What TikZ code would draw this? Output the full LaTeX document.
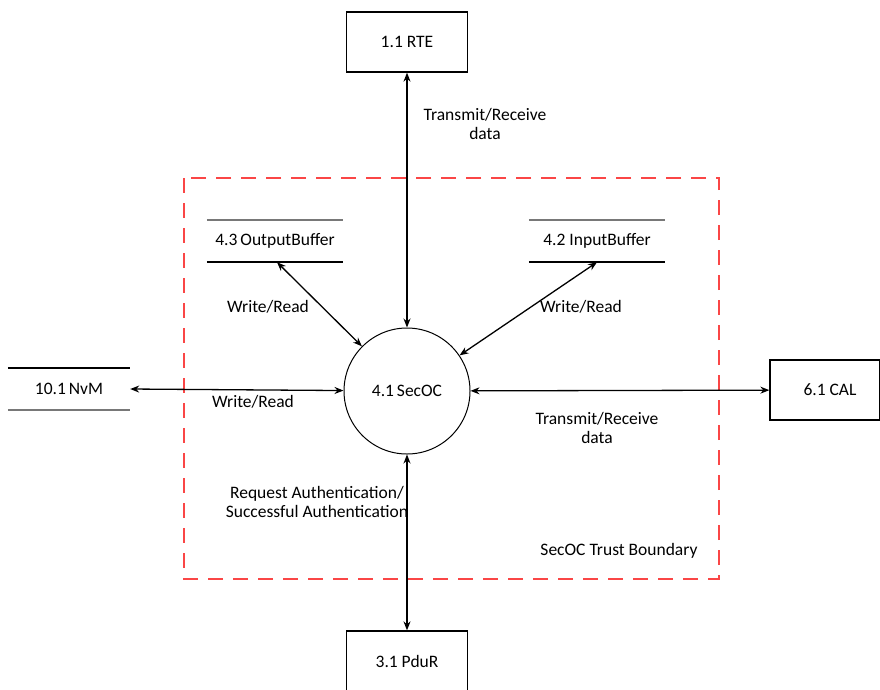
\documentclass[tikz,border=0pt]{standalone}
\usepackage{fontspec}
\setmainfont{Carlito}
\usetikzlibrary{arrows.meta}
\definecolor{boundred}{RGB}{250,70,70}
\definecolor{storegrey}{RGB}{120,120,120}
\tikzset{
  ext/.style={draw, line width=1.3pt, minimum width=121pt, minimum height=60pt, font=\fontsize{17.5}{20}\selectfont},
  proc/.style={draw, circle, line width=1pt, minimum size=126pt, inner sep=0pt, font=\fontsize{17.5}{20}\selectfont},
  store/.style={minimum height=42pt, inner sep=0pt, font=\fontsize{17.5}{20}\selectfont},
  flow/.style={line width=1.3pt, {Stealth[length=9pt,width=7pt]}-{Stealth[length=9pt,width=7pt]}},
  lbl/.style={font=\fontsize{17.5}{18.5}\selectfont, align=center, inner sep=0pt},
  line/.style={line width=1.8pt},
  boundary/.style={draw=boundred, line width=1.6pt, dash pattern=on 15pt off 10pt}
}
\begin{document}
\begin{tikzpicture}[x=1pt,y=-1pt]
\useasboundingbox (0,0) rectangle (880,689);

% trust boundary
\draw[boundary] (184,178) rectangle (719,579);

% central process
\node[proc] (sec) at (407,391) {4.1\,SecOC};

% external entities
\node[ext] (rte) at (407,42) {1.1 RTE};
\node[ext] (cal) at (825,390) [minimum width=110pt] {\hspace*{10pt}6.1 CAL};
\node[ext] (pdur) at (407,661) {3.1 PduR};

% data stores
\node[store, minimum width=136pt] (ob) at (275,241) {4.3\,OutputBuffer};
\node[store, minimum width=136pt] (ib) at (597,241) {4.2 InputBuffer};
\node[store, minimum width=122pt] (nvm) at (69,389) {10.1\,NvM};
\draw[line, storegrey] (ob.north west) -- (ob.north east);
\draw[line] (ob.south west) -- (ob.south east);
\draw[line, storegrey] (ib.north west) -- (ib.north east);
\draw[line] (ib.south west) -- (ib.south east);
\draw[line] (nvm.north west) -- (nvm.north east);
\draw[line, storegrey] (nvm.south west) -- (nvm.south east);

% flows
\draw[flow] (rte) -- (sec);
\draw[flow] (sec) -- (pdur);
\draw[flow] (nvm.east) -- (sec);
\draw[flow] (sec) -- (cal);
\draw[flow] (ob.south) ++(2,0) coordinate (obs) (obs) -- (sec);
\draw[flow] (ib.south) -- (sec);

% flow labels
\node[lbl] (l1) at (485,124) {Transmit/Receive\\data};
\node[lbl] (l2) at (268,307) {Write/Read};
\node[lbl] (l3) at (581,307) {Write/Read};
\node[lbl] (l4) at (253,402) {Write/Read};
\node[lbl] (l5) at (597,428) {Transmit/Receive\\data};
\node[lbl] (l6) at (317,502) {Request Authentication/\\Successful Authentication};
\node[lbl] (l7) at (619,551) {SecOC Trust Boundary};
\end{tikzpicture}
\end{document}
